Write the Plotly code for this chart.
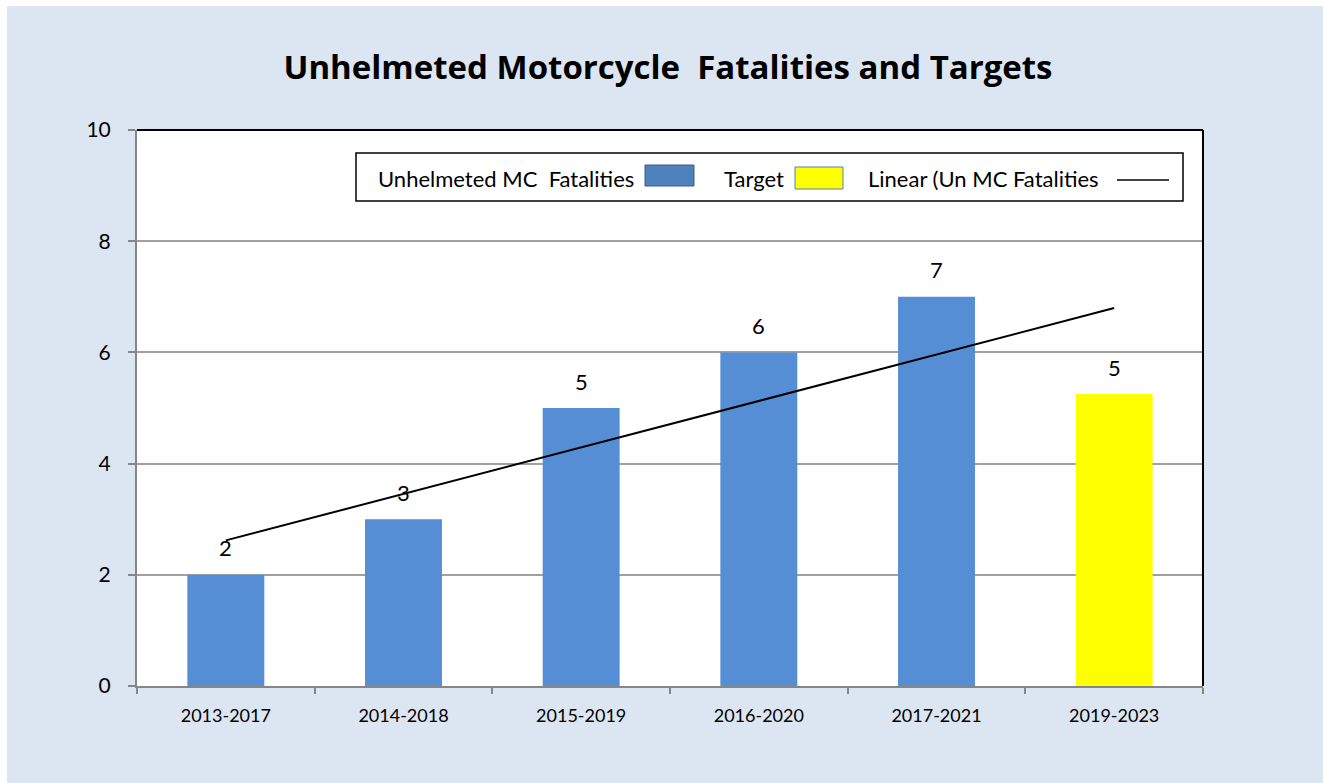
import numpy as np
import plotly.graph_objects as go

# ---------------- data ----------------
categories = ["2013-2017", "2014-2018", "2015-2019", "2016-2020", "2017-2021", "2019-2023"]
values = [2, 3, 5, 6, 7, 5.25]
is_target = [False, False, False, False, False, True]
y_ticks = [0, 2, 4, 6, 8, 10]

title_text = "<b>Unhelmeted Motorcycle  Fatalities and Targets</b>"
legend_labels = ["Unhelmeted MC  Fatalities", "Target", "Linear (Un MC Fatalities"]

# ---------------- style ----------------
W, H = 1323, 783
ML, MR, MT, MB = 137, 120, 130, 97
PW, PH = W - ML - MR, H - MT - MB
BLUE = "#558ED5"
YELLOW = "#FFFF00"
BG = "#DCE6F2"
FONT = "Lato"
TITLE_FONT = "Open Sans"


def px_x(px):
    return (px - ML) / PW


def px_y(py):
    return (H - MB - py) / PH


bar_colors = [YELLOW if t else BLUE for t in is_target]

# linear trendline fitted over all six values (as in the spreadsheet chart)
idx = np.arange(1, len(values) + 1)
slope, intercept = np.polyfit(idx, values, 1)
trend_x = [categories[0], categories[-1]]
trend_y = [slope * idx[0] + intercept, slope * idx[-1] + intercept]

fig = go.Figure()
fig.add_trace(go.Bar(
    x=categories, y=values, marker=dict(color=bar_colors, line=dict(width=0)),
    name=legend_labels[0], showlegend=False, hoverinfo="x+y",
))
fig.add_trace(go.Scatter(
    x=trend_x, y=trend_y, mode="lines", line=dict(color="black", width=2),
    name=legend_labels[2], showlegend=False,
))

# value labels above bars
for c, v in zip(categories, values):
    fig.add_annotation(x=c, y=v, text=f"{round(v)}", showarrow=False,
                       xref="x", yref="y", yanchor="middle", yshift=27,
                       font=dict(family=FONT, size=22, color="black"))

shapes = []
# white strips at the top / left edges of the image
shapes.append(dict(type="rect", xref="paper", yref="paper", layer="above",
                   x0=px_x(0), x1=px_x(7), y0=px_y(H), y1=px_y(0),
                   fillcolor="white", line=dict(width=0)))
shapes.append(dict(type="rect", xref="paper", yref="paper", layer="above",
                   x0=px_x(0), x1=px_x(W), y0=px_y(6), y1=px_y(0),
                   fillcolor="white", line=dict(width=0)))
# black top and right frame
shapes.append(dict(type="line", xref="paper", yref="paper", x0=0, x1=1, y0=1, y1=1,
                   line=dict(color="black", width=2), layer="above"))
shapes.append(dict(type="line", xref="paper", yref="paper", x0=1, x1=1, y0=0, y1=1,
                   line=dict(color="black", width=2), layer="above"))

# custom legend (text followed by symbol)
shapes.append(dict(type="rect", xref="paper", yref="paper", layer="above",
                   x0=px_x(356), x1=px_x(1183), y0=px_y(201), y1=px_y(153),
                   fillcolor="white", line=dict(color="black", width=1.5)))
shapes.append(dict(type="rect", xref="paper", yref="paper", layer="above",
                   x0=px_x(645), x1=px_x(694), y0=px_y(186), y1=px_y(165),
                   fillcolor="#4F81BD", line=dict(color="#385D8A", width=1)))
shapes.append(dict(type="rect", xref="paper", yref="paper", layer="above",
                   x0=px_x(795), x1=px_x(843), y0=px_y(189), y1=px_y(167),
                   fillcolor=YELLOW, line=dict(color="#4F81BD", width=1)))
shapes.append(dict(type="line", xref="paper", yref="paper", layer="above",
                   x0=px_x(1117), x1=px_x(1169), y0=px_y(180), y1=px_y(180),
                   line=dict(color="black", width=1.5)))

for lbl, xpx in zip(legend_labels, [376, 722, 866]):
    fig.add_annotation(x=px_x(xpx), y=px_y(178), xref="paper", yref="paper",
                       text=lbl, showarrow=False, xanchor="left", yanchor="middle",
                       font=dict(family=FONT, size=22, color="black"))

fig.update_layout(
    width=W, height=H,
    margin=dict(l=ML, r=MR, t=MT, b=MB, pad=0),
    paper_bgcolor=BG, plot_bgcolor="white",
    bargap=0.567,
    showlegend=False,
    shapes=shapes,
    title=dict(text=title_text, x=px_x(668), xref="paper", xanchor="center",
               y=1 - 67 / H, yref="container", yanchor="middle",
               font=dict(family=TITLE_FONT, size=33, color="black")),
    font=dict(family=FONT, color="black"),
    xaxis=dict(
        type="category", categoryorder="array", categoryarray=categories,
        showgrid=False, showline=True, linecolor="#868686", linewidth=2,
        ticks="outside", tickson="boundaries", ticklen=6, tickcolor="#868686",
        tickwidth=2, tickfont=dict(family=FONT, size=18, color="black"),
        zeroline=False, range=[-0.5, len(categories) - 0.5],
        ticklabelstandoff=12,
    ),
    yaxis=dict(
        range=[0, 10], tickvals=y_ticks, showgrid=True, gridcolor="#A0A0A0",
        gridwidth=2, showline=True, linecolor="#868686", linewidth=2,
        ticks="outside", ticklen=7, tickcolor="#868686", tickwidth=2,
        tickfont=dict(family=FONT, size=21, color="black"), zeroline=False,
        ticklabelstandoff=13,
    ),
)

fig.write_html(
    "out.html",
    config={"displayModeBar": False},
    post_script="document.body.style.margin='0';document.body.style.overflow='hidden';",
)
